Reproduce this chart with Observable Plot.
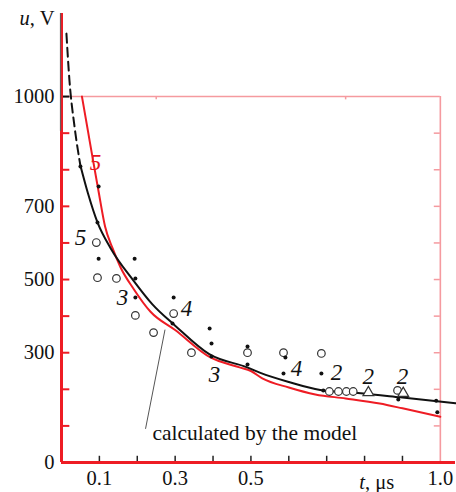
<!DOCTYPE html>
<html><head><meta charset="utf-8">
<script src="https://cdn.jsdelivr.net/npm/d3@7"></script>
<script src="https://cdn.jsdelivr.net/npm/@observablehq/plot@0.6"></script>
<style>
body{margin:0;background:#fff}
#chart{width:456px;height:492px}
#chart svg, #chart svg text {font-family: "Liberation Serif", "Times New Roman", serif !important;}
</style>
</head><body><div id="chart"></div>
<script>
// ---- data (t in µs, u in V) ----
const modelT = [0.050, 0.070, 0.095, 0.130, 0.190, 0.240, 0.300, 0.390, 0.490, 0.525, 0.600, 0.683, 0.790, 0.894, 1.040];
const modelU = [811, 735, 656, 585, 497, 432, 374, 296, 260, 245, 220, 198, 189, 178, 162];
const dashT = [0.013, 0.021, 0.034, 0.050];
const dashU = [1172, 1044, 921, 811];
const redT = [0.054, 0.070, 0.082, 0.098, 0.115, 0.135, 0.156, 0.190, 0.235, 0.300, 0.393, 0.470, 0.500, 0.530, 0.600, 0.670, 0.750, 0.840, 0.900, 1.000];
const redU = [1000, 905, 833, 740, 645, 585, 533, 475, 412, 362, 287, 260, 250, 230, 205, 186, 175, 161, 148, 125];
const dotT = [0.050, 0.098, 0.095, 0.098, 0.193, 0.195, 0.195, 0.296, 0.293, 0.391, 0.396, 0.396, 0.491, 0.491, 0.591, 0.586, 0.686, 0.691, 0.889, 0.989, 0.992];
const dotU = [809, 754, 656, 557, 557, 503, 451, 451, 380, 366, 325, 290, 317, 268, 287, 243, 243, 197, 172, 169, 137];
const circT = [0.092, 0.095, 0.145, 0.195, 0.243, 0.296, 0.343, 0.491, 0.586, 0.686, 0.707, 0.731, 0.752, 0.770, 0.887];
const circU = [601, 505, 503, 402, 355, 407, 300, 300, 300, 298, 194, 194, 194, 194, 197];
const triT = [0.810, 0.902];
const triU = [191, 189];
const labelText = ["5", "5", "3", "4", "3", "4", "2", "2", "2"];
const labelT = [0.090, 0.050, 0.161, 0.330, 0.404, 0.620, 0.726, 0.810, 0.900];
const labelU = [820, 615, 451, 421, 240, 257, 246, 235, 235];
const labelColor = ["#e8141e", "#111", "#111", "#111", "#111", "#111", "#111", "#111", "#111"];
const xTickLabels = [0.1, 0.3, 0.5, 1.0];
const xTicks = [0.1, 0.2, 0.3, 0.4, 0.5, 0.6, 0.7, 0.8, 0.9];
const yTickLabels = [0, 300, 500, 700, 1000];
const yTicks = [100, 200, 300, 400, 500, 600, 700, 800, 900];
const rightTicks = [100, 200, 300, 400, 500, 600, 700, 800, 900];
const topTicks = [0.25, 0.75];
const leaderT = [0.222, 0.273];
const leaderU = [93, 362];
const annotation = "calculated by the model";

const zip = (T, U) => T.map((t, i) => ({t, u: U[i]}));
const model = zip(modelT, modelU);
const dashed = zip(dashT, dashU);
const red = zip(redT, redU);
const dots = zip(dotT, dotU);
const circs = zip(circT, circU);
const tris = zip(triT, triU);
const labels = labelText.map((s, i) => ({s, t: labelT[i], u: labelU[i], c: labelColor[i]}));
const leader = zip(leaderT, leaderU);

const RED = "#ee1c24", PINK = "#f59a9f", FONT = "Liberation Serif";

const plot = Plot.plot({
  width: 456, height: 492,
  marginLeft: 61, marginRight: 1, marginTop: 13, marginBottom: 30,
  style: {fontSize: "20px", background: "#fff", color: "#111", overflow: "visible"},
  x: {domain: [0, 1.04]},
  y: {domain: [0, 1227]},
  marks: [
    Plot.axisX({ticks: xTickLabels, tickSize: 0, tickPadding: 8, tickFormat: d => d.toFixed(1), fontSize: 20.5, fontFamily: FONT, label: null, fill: "#111"}),
    Plot.axisY({ticks: yTickLabels, tickSize: 0, tickPadding: 7, tickFormat: d => String(d), fontSize: 20.5, fontFamily: FONT, label: null, fill: "#111"}),
    // frame (top & right)
    Plot.ruleY([1000], {y: d => d, x1: 0, x2: 1.0, stroke: PINK, strokeWidth: 1.6}),
    Plot.ruleX([1.0], {x: d => d, y1: 0, y2: 1000, stroke: PINK, strokeWidth: 1.6}),
    Plot.ruleY(rightTicks, {y: d => d, x1: 0.984, x2: 1.0, stroke: PINK, strokeWidth: 1.5}),
    Plot.ruleX(topTicks, {x: d => d, y1: 991, y2: 1000, stroke: PINK, strokeWidth: 1.5}),
    // left & bottom ticks
    Plot.ruleY(yTicks, {y: d => d, x1: 0, x2: 0.022, stroke: RED, strokeWidth: 2}),
    Plot.ruleY([1000], {y: d => d, x1: 0, x2: 0.022, stroke: "#111", strokeWidth: 2}),
    Plot.ruleX(xTicks, {x: d => d, y1: 0, y2: 17, stroke: "#222", strokeWidth: 1.5}),
    // curves
    Plot.line(red, {x: "t", y: "u", stroke: RED, strokeWidth: 2, curve: "monotone-x"}),
    Plot.line(model, {x: "t", y: "u", stroke: "#111", strokeWidth: 2, curve: "monotone-x"}),
    Plot.line(dashed, {x: "t", y: "u", stroke: "#111", strokeWidth: 2, strokeDasharray: "9,5", curve: "monotone-x"}),
    // leader line & annotation
    Plot.line(leader, {x: "t", y: "u", stroke: "#555", strokeWidth: 1}),
    Plot.text([annotation], {x: 0.240, y: 80, text: d => d, textAnchor: "start", fontSize: 21.5, fontFamily: FONT, fill: "#111"}),
    // points
    Plot.dot(circs, {x: "t", y: "u", r: 3.8, stroke: "#333", strokeWidth: 1.2, fill: "#fff"}),
    Plot.dot(tris, {x: "t", y: "u", r: 4, symbol: "triangle", stroke: "#333", strokeWidth: 1.2, fill: "#fff"}),
    Plot.dot(dots, {x: "t", y: "u", r: 2, fill: "#111", stroke: "none"}),
    // curve labels
    Plot.text(labels, {x: "t", y: "u", text: "s", fill: "c", fontSize: 23, fontFamily: FONT, fontStyle: "italic"}),
    // axis titles
    Plot.text(["u, V"], {x: 0, y: 1227, text: d => d, textAnchor: "end", dx: -7, dy: 5, fontSize: 20.5, fontFamily: FONT, fill: "#111"}),
    Plot.text(["t, μs"], {x: 0.832, y: 0, text: d => d, dy: 20, fontSize: 20.5, fontFamily: FONT, fill: "#111"}),
    // main axes lines (red), with darker upper segment
    Plot.ruleX([0], {x: d => d, y1: 0, y2: 1227, stroke: RED, strokeWidth: 3}),
    Plot.ruleX([0], {x: d => d, y1: 905, y2: 1227, stroke: "#6a5a5a", strokeWidth: 1.2, dx: -1}),
    Plot.ruleY([0], {y: d => d, x1: 0, x2: 1.04, stroke: RED, strokeWidth: 3})
  ]
});

const svg = d3.select(plot);
svg.selectAll("text").each(function () {
  const el = d3.select(this);
  const s = this.textContent;
  if (s === "u, V") el.html('<tspan font-style="italic">u</tspan>, V');
  if (s === "t, μs") el.html('<tspan font-style="italic">t</tspan>, μs');
});
document.getElementById("chart").appendChild(plot);
</script>
</body></html>
